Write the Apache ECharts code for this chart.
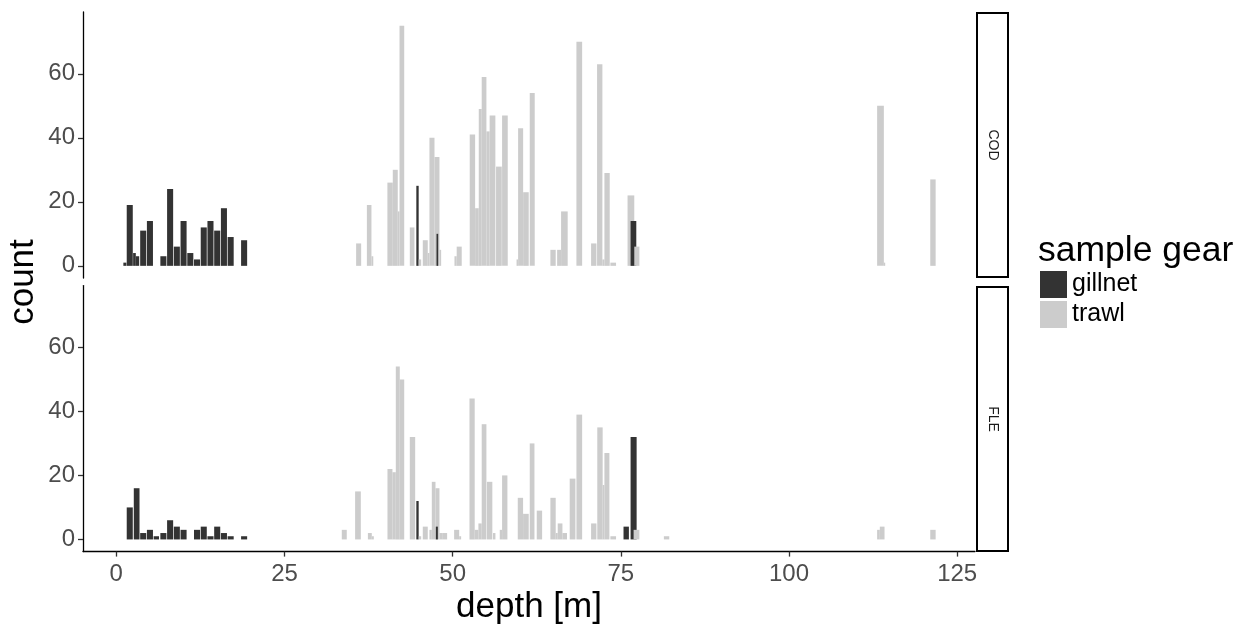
<!DOCTYPE html>
<html>
<head>
<meta charset="utf-8">
<script src="https://cdn.jsdelivr.net/npm/echarts@6/dist/echarts.min.js"></script>
<style>
html,body{margin:0;padding:0;background:#fff;}
#chart{width:1248px;height:626px;}
</style>
</head>
<body>
<div id="chart"></div>
<script>
// ---- data: [depth from, depth to, count] ----
const depthTicks = [0, 25, 50, 75, 100, 125];
const countTicks = [0, 20, 40, 60];
const gearNames = ['gillnet', 'trawl'];
const speciesNames = ['COD', 'FLE'];

const codGillnet = [
  [1.05,1.5,1],[1.55,2.45,19],[2.5,2.9,4],[2.9,3.4,3],[3.55,4.45,11],[4.55,5.45,14],
  [6.55,7.45,3],[7.55,8.45,24],[8.55,9.45,6],[9.55,10.45,14],[10.55,11.45,4],[11.55,12.45,2],
  [12.55,13.45,12],[13.55,14.45,14],[14.55,15.45,11],[15.55,16.45,18],[16.55,17.45,9],
  [18.55,19.45,8],[44.6,44.95,25],[47.6,47.85,10],[76.45,77.3,14]
];
const codTrawl = [
  [35.65,36.4,7],[37.25,37.93,19],[37.93,38.2,3],[40.3,41.1,26],[41.1,41.84,30],[41.84,42.1,17],
  [42.1,42.8,75],[43.63,44.32,12],[44.96,45.32,2],[45.56,46.3,8],[46.3,46.55,4],[46.55,47.3,40],
  [47.3,48.04,34],[48.04,48.29,5],[50.27,50.6,3],[50.6,51.35,6],[52.54,53.34,41],[53.34,53.88,18],
  [53.88,54.32,49],[54.32,55.02,59],[55.02,55.5,42],[55.5,56.35,47],[56.45,57.3,31],[57.35,58.19,47],
  [59.5,59.73,2],[59.73,60.48,43],[60.48,61.31,23],[61.46,62.2,54],[64.53,65.32,5],[65.53,66.12,5],
  [66.12,67.1,17],[68.4,69.25,70],[70.58,71.37,7],[71.47,72.26,63],[72.26,72.56,2],[72.56,73.35,29],
  [73.45,74.29,1],[76.0,77.0,22],[77.0,77.76,6],[113.1,114.1,50],[114.1,114.3,1],[121.0,121.8,27]
];
const fleGillnet = [
  [1.55,2.45,10],[2.6,3.45,16],[3.55,4.45,2],[4.55,5.45,3],[5.55,6.35,1],[6.55,7.45,2],
  [7.55,8.45,6],[8.55,9.45,4],[9.55,10.45,3],[11.55,12.45,3],[12.55,13.45,4],[13.55,14.45,1],
  [14.55,15.45,4],[15.55,16.45,2],[16.55,17.45,1],[18.55,19.45,1],[44.6,44.95,12],[47.5,47.8,4],
  [75.4,76.2,4],[76.45,77.35,32]
];
const fleTrawl = [
  [33.52,34.26,3],[35.5,36.35,15],[37.4,37.98,2],[37.98,38.28,1],[40.31,41.05,22],[41.05,41.55,21],
  [41.55,42.14,54],[42.14,42.8,50],[43.63,44.43,32],[44.96,45.32,1],[45.56,46.3,4],[46.55,46.9,3],
  [46.9,47.45,18],[47.45,48.04,16],[48.04,48.44,2],[48.44,49.18,2],[50.22,50.97,3],[50.97,51.26,1],
  [52.5,53.28,44],[53.28,53.83,3],[53.83,54.32,5],[54.32,55.02,36],[55.1,55.9,18],[56.0,56.36,2],
  [57.0,57.35,3],[57.35,58.14,20],[59.68,60.47,13],[60.47,61.31,8],[61.46,62.16,30],[62.5,63.3,9],
  [64.53,65.32,13],[65.32,65.62,2],[65.62,66.32,5],[66.32,67.0,2],[67.4,68.25,19],[68.4,69.25,39],
  [70.58,71.37,5],[71.5,72.3,35],[72.3,72.56,17],[72.56,73.3,27],[73.45,74.29,1],[76.9,77.76,3],
  [81.4,82.2,1],[113.1,113.5,3],[113.5,114.2,4],[121.0,121.8,3]
];

// ---- drawing ----
const FONT = '"Liberation Sans", Arial, "DejaVu Sans", sans-serif';
const GILL = '#333333', TRAWL = '#cccccc';
const X_MIN = -4.95, X_MAX = 127.65, Y_MIN = -3.8, Y_MAX = 79.3;

function renderBar(params, api) {
  const x0 = api.value(0), x1 = api.value(1), c = api.value(2);
  const pTop = api.coord([x0, c]);
  const pBot = api.coord([x1, 0]);
  return {
    type: 'rect',
    shape: { x: pTop[0], y: pTop[1], width: pBot[0] - pTop[0], height: pBot[1] - pTop[1] },
    style: { fill: api.visual('color') },
    z2: Math.round(x0 * 100)
  };
}
function barSeries(name, data, idx, color) {
  return {
    type: 'custom', name: name, coordinateSystem: 'cartesian2d',
    xAxisIndex: idx, yAxisIndex: idx, data: data,
    encode: { x: [0, 1], y: 2 }, itemStyle: { color: color },
    renderItem: renderBar, silent: true
  };
}
function xAxisDef(idx, showAxis) {
  return {
    gridIndex: idx, type: 'value', min: X_MIN, max: X_MAX,
    axisLine: { show: showAxis, onZero: false, lineStyle: { color: '#000', width: 1.3 } },
    axisTick: { show: showAxis, length: 5, customValues: depthTicks, lineStyle: { color: '#333', width: 1.3 } },
    axisLabel: { show: showAxis, customValues: depthTicks, fontSize: 24, color: '#4d4d4d', margin: 11, fontFamily: FONT },
    splitLine: { show: false },
    name: showAxis ? 'depth [m]' : '', nameLocation: 'middle', nameGap: 38,
    nameTextStyle: { fontSize: 35, color: '#000', fontFamily: FONT }
  };
}
function yAxisDef(idx) {
  return {
    gridIndex: idx, type: 'value', min: Y_MIN, max: Y_MAX,
    axisLine: { show: true, onZero: false, lineStyle: { color: '#000', width: 1.3 } },
    axisTick: { show: true, length: 5, customValues: countTicks, lineStyle: { color: '#333', width: 1.3 } },
    axisLabel: { customValues: countTicks, fontSize: 24, color: '#4d4d4d', margin: 8, fontFamily: FONT },
    splitLine: { show: false }
  };
}

const strips = [
  { y: 13, h: 264, label: speciesNames[0] },
  { y: 287, h: 264, label: speciesNames[1] }
];
const graphics = [];
strips.forEach(function (s) {
  graphics.push({ type: 'rect', shape: { x: 977, y: s.y, width: 31, height: s.h },
    style: { fill: '#fff', stroke: '#000', lineWidth: 2 } });
  graphics.push({ type: 'text', x: 993, y: s.y + s.h / 2, rotation: -Math.PI / 2,
    style: { text: s.label, fontSize: 14, fontFamily: FONT, fill: '#1a1a1a',
      align: 'center', verticalAlign: 'middle', textAlign: 'center', textVerticalAlign: 'middle' } });
});
graphics.push({ type: 'text', x: 23, y: 282, rotation: Math.PI / 2,
  style: { text: 'count', fontSize: 35, fontFamily: FONT, fill: '#000',
    align: 'center', verticalAlign: 'middle', textAlign: 'center', textVerticalAlign: 'middle' } });
graphics.push({ type: 'text', x: 1038, y: 251,
  style: { text: 'sample gear', fontSize: 35.5, fontFamily: FONT, fill: '#000',
    align: 'left', verticalAlign: 'middle', textAlign: 'left', textVerticalAlign: 'middle' } });

const chart = echarts.init(document.getElementById('chart'), null, { renderer: 'canvas' });
chart.setOption({
  animation: false,
  backgroundColor: '#ffffff',
  textStyle: { fontFamily: FONT },
  grid: [
    { left: 83, top: 12, width: 892, height: 266 },
    { left: 83, top: 285.6, width: 892, height: 266 }
  ],
  xAxis: [xAxisDef(0, false), xAxisDef(1, true)],
  yAxis: [yAxisDef(0), yAxisDef(1)],
  legend: {
    data: gearNames, orient: 'vertical', left: 1040, top: 271, padding: 0,
    icon: 'rect', itemWidth: 27, itemHeight: 27, itemGap: 3, selectedMode: false,
    textStyle: { fontSize: 25, color: '#000', fontFamily: FONT }
  },
  graphic: graphics,
  series: [
    barSeries(gearNames[1], codTrawl, 0, TRAWL),
    barSeries(gearNames[0], codGillnet, 0, GILL),
    barSeries(gearNames[1], fleTrawl, 1, TRAWL),
    barSeries(gearNames[0], fleGillnet, 1, GILL)
  ]
});
</script>
</body>
</html>
